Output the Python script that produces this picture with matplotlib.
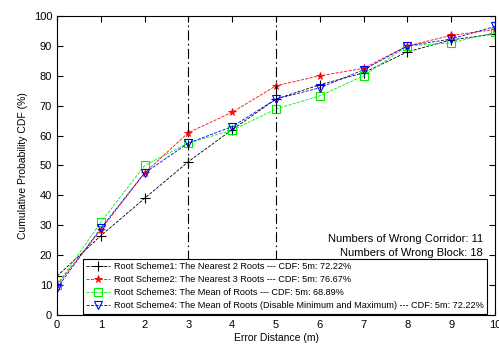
import matplotlib
matplotlib.use("Agg")
import matplotlib.pyplot as plt
import numpy as np

x = np.arange(0, 11)
scheme1 = [13, 26.5, 39, 51.3, 62, 72.22, 77, 81, 88, 92, 94]
scheme2 = [10, 28.5, 47.5, 61, 67.8, 76.67, 80, 82.5, 90, 93.5, 95.5]
scheme3 = [10, 31, 50, 57.5, 61.8, 68.89, 73.3, 80, 90, 91, 94.5]
scheme4 = [9, 29, 47.5, 57.5, 63, 72.22, 76, 82, 90, 92.3, 96.5]

labels = [
    "Root Scheme1: The Nearest 2 Roots --- CDF: 5m: 72.22%",
    "Root Scheme2: The Nearest 3 Roots --- CDF: 5m: 76.67%",
    "Root Scheme3: The Mean of Roots --- CDF: 5m: 68.89%",
    "Root Scheme4: The Mean of Roots (Disable Minimum and Maximum) --- CDF: 5m: 72.22%",
]
vlines = [3, 5]

plt.rcParams['font.family'] = ['Liberation Sans', 'DejaVu Sans']
fig = plt.figure(figsize=(4.99, 3.45), dpi=100)
ax = fig.add_axes([57/499, 1-315/345, 438/499, 299/345])

ax.plot(x, scheme1, color="black", ls="--", lw=0.6, marker="+", ms=7, mew=0.8, label=labels[0])
ax.plot(x, scheme2, color="red", ls="--", lw=0.6, marker="*", ms=5.5, mew=0.6, label=labels[1])
ax.plot(x, scheme3, color="#00ee00", ls="--", lw=0.6, marker="s", ms=6, mfc="none", mew=0.8, label=labels[2])
ax.plot(x, scheme4, color="blue", ls="--", lw=0.6, marker="v", ms=6, mfc="none", mew=0.8, label=labels[3])

for v in vlines:
    ax.axvline(v, color="black", lw=0.8, dashes=(9, 3, 1.5, 3))

ax.set_xlim(0, 10)
ax.set_ylim(0, 100)
ax.set_xticks(range(0, 11))
ax.set_yticks(range(0, 101, 10))
ax.tick_params(direction="in", labelsize=8, length=4, top=True, right=True)
ax.set_xlabel("Error Distance (m)", fontsize=7.5, labelpad=2)
ax.set_ylabel("Cumulative Probability CDF (%)", fontsize=7.5, labelpad=4)

ax.text(0.973, 0.19, "Numbers of Wrong Corridor: 11\nNumbers of Wrong Block: 18",
        transform=ax.transAxes, ha="right", va="bottom", fontsize=8, linespacing=1.5)

leg = ax.legend(loc="lower left", bbox_to_anchor=(26/438, 0.005), fontsize=6.6,
                fancybox=False, edgecolor="black", framealpha=1, borderpad=0.35,
                labelspacing=0.45, handlelength=2.6, handletextpad=0.4, borderaxespad=0)
leg.get_frame().set_linewidth(0.8)

fig.savefig("out.png", dpi=100)
